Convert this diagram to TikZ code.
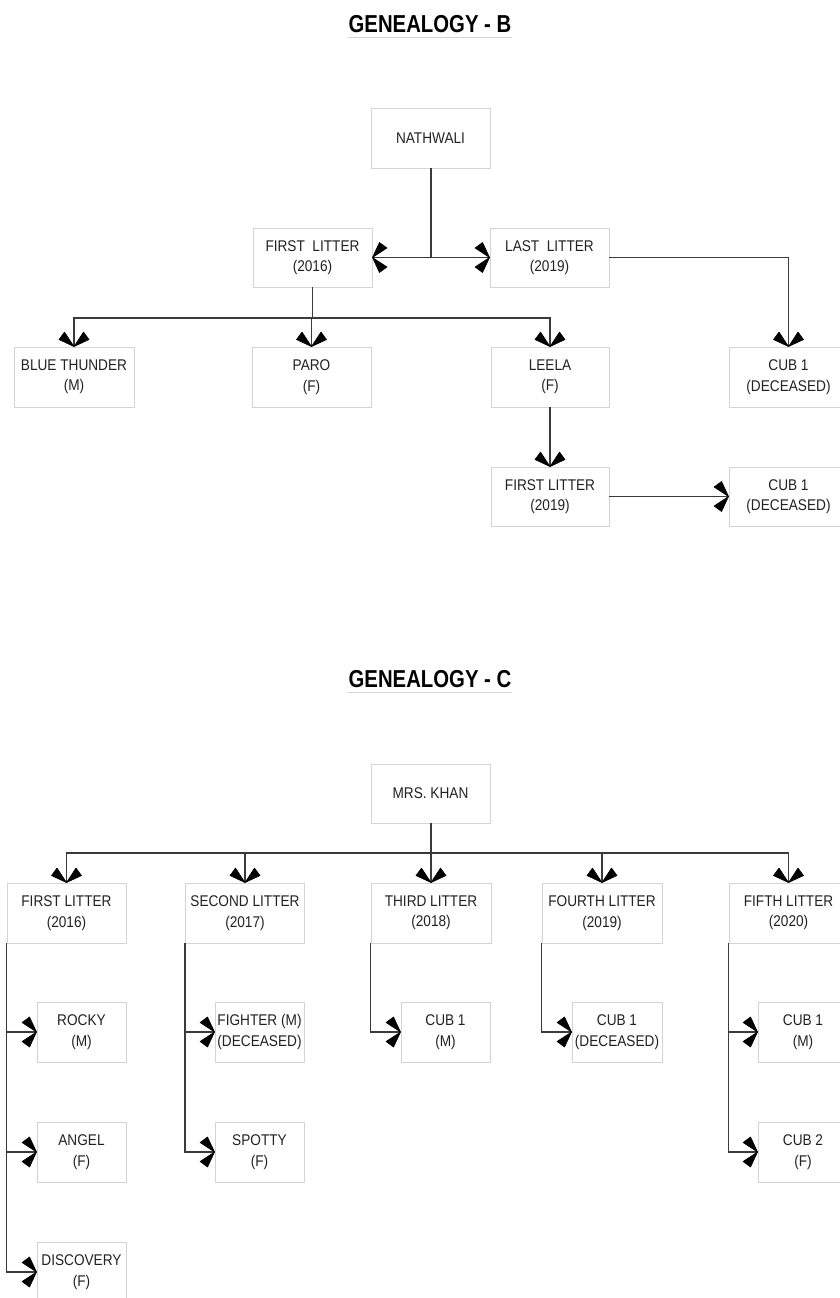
\documentclass[tikz,border=0pt]{standalone}
\usepackage{fontspec}
\setmainfont{Liberation Sans}[FakeStretch=0.88]
\newfontfamily\titlefont{Liberation Sans}[FakeStretch=0.83]
\definecolor{boxgray}{HTML}{D4D4D4}
\definecolor{linegray}{HTML}{3A3A3A}
\definecolor{textgray}{HTML}{222222}
\pgfdeclarearrow{
  name = Wing,
  setup code = {
    \pgfarrowssettipend{0pt}
    \pgfarrowssetbackend{-14.5pt}
    \pgfarrowssetlineend{-1pt}
    \pgfarrowshullpoint{0pt}{0pt}
    \pgfarrowshullpoint{-14.5pt}{15pt}
    \pgfarrowshullpoint{-14.5pt}{-15pt}
  },
  drawing code = {
    \pgfsetlinewidth{0.6pt}
    \pgfsetroundjoin
    \pgfsetcolor{black}
    \pgfpathmoveto{\pgfpoint{0pt}{0pt}}
    \pgfpathlineto{\pgfpoint{-7pt}{15pt}}
    \pgfpathlineto{\pgfpoint{-14.5pt}{9.5pt}}
    \pgfpathclose
    \pgfpathmoveto{\pgfpoint{0pt}{0pt}}
    \pgfpathlineto{\pgfpoint{-7pt}{-15pt}}
    \pgfpathlineto{\pgfpoint{-14.5pt}{-9.5pt}}
    \pgfpathclose
    \pgfusepathqfillstroke
  }
}
\tikzset{
  box/.style={draw=boxgray, line width=0.9pt, inner sep=0pt, minimum height=60pt,
    align=center, text=textgray, font=\fontsize{15.5}{20.5}\selectfont},
  wbig/.style={box, minimum width=119pt},
  wsmall/.style={box, minimum width=90pt},
  conn/.style={draw=linegray, line width=1.3pt},
  arr/.style={conn, -Wing},
  darr/.style={conn, Wing-Wing},
  title/.style={inner sep=0pt, font=\titlefont\bfseries\fontsize{24.5}{28}\selectfont},
  uline/.style={draw=boxgray, line width=0.8pt}
}
\begin{document}
\begin{tikzpicture}[x=1pt,y=-1pt]
\useasboundingbox (0,0) rectangle (840,1298);
\clip (0,0) rectangle (840,1298);
\fill[white] (0,0) rectangle (840,1298);

% ---------- Genealogy B ----------
\node[title] (tB) at (430,24) {GENEALOGY - B};
\coordinate (uB1) at (348,37);
\coordinate (uB2) at (512,37);
\draw[uline] (uB1) -- (uB2);

\node[wbig] (nath) at (430.5,138) {NATHWALI};
\node[wbig, minimum height=59pt] (fl16) at (312.5,257.5) {FIRST\ \ LITTER\\(2016)};
\node[wbig, minimum height=59pt] (ll19) at (549.5,257.5) {LAST\ \ LITTER\\(2019)};
\node[box, minimum width=120pt] (bt) at (74,377) {BLUE THUNDER\\(M)};
\node[wbig] (paro) at (311.5,377) {PARO\\(F)};
\node[box, minimum width=118pt] (leela) at (550,377) {LEELA\\(F)};
\node[wbig] (cubA) at (788.5,377) {CUB 1\\(DECEASED)};
\node[box, minimum width=118pt, minimum height=59pt] (fl19) at (550,496.5) {FIRST LITTER\\(2019)};
\node[wbig, minimum height=59pt] (cubB) at (788.5,496.5) {CUB 1\\(DECEASED)};

\coordinate (j1) at (431,258);
\draw[conn] (nath.south -| j1) -- (j1);
\draw[darr] (fl16.east) -- (ll19.west);
\draw[arr] (ll19.east) -| (cubA.north);
\coordinate (j2) at (312.5,318);
\draw[conn] (fl16.south) -- (j2);
\draw[arr] (j2) -| (bt.north);
\draw[arr] (j2) -| (paro.north);
\draw[arr] (j2) -| (leela.north);
\draw[arr] (leela.south) -- (fl19.north);
\draw[arr] (fl19.east) -- (cubB.west);

% ---------- Genealogy C ----------
\node[title] (tC) at (430,679) {GENEALOGY - C};
\coordinate (uC1) at (348,692);
\coordinate (uC2) at (512,692);
\draw[uline] (uC1) -- (uC2);

\node[wbig, minimum height=59pt] (khan) at (430.5,793.5) {MRS. KHAN};
\node[wbig] (c1) at (66.5,913) {FIRST LITTER\\(2016)};
\node[wbig] (c2) at (245,913) {SECOND LITTER\\(2017)};
\node[box, minimum width=120pt] (c3) at (431,913) {THIRD LITTER\\(2018)};
\node[box, minimum width=120pt] (c4) at (602,913) {FOURTH LITTER\\(2019)};
\node[wbig] (c5) at (788.5,913) {FIFTH LITTER\\(2020)};

\coordinate (j3) at (431,853);
\draw[conn] (khan.south -| j3) -- (j3);
\draw[arr] (j3) -| (c1.north);
\draw[arr] (j3) -| (c2.north);
\draw[arr] (j3) -- (c3.north);
\draw[arr] (j3) -| (c4.north);
\draw[arr] (j3) -| (c5.north);

\node[box, minimum width=89pt] (rocky) at (81.5,1032) {ROCKY\\(M)};
\node[box, minimum width=89pt] (angel) at (81.5,1152) {ANGEL\\(F)};
\node[box, minimum width=89pt] (disc) at (81.5,1272) {DISCOVERY\\(F)};
\node[box, minimum width=89pt] (fighter) at (259.5,1032) {FIGHTER (M)\\(DECEASED)};
\node[box, minimum width=89pt] (spotty) at (259.5,1152) {SPOTTY\\(F)};
\node[box, minimum width=89pt] (cub3) at (445.5,1032) {CUB 1\\(M)};
\node[wsmall] (cub4) at (617,1032) {CUB 1\\(DECEASED)};
\node[wsmall] (cub5a) at (803,1032) {CUB 1\\(M)};
\node[wsmall] (cub5b) at (803,1152) {CUB 2\\(F)};

\draw[arr] (c1.south west) |- (rocky.west);
\draw[arr] (c1.south west) |- (angel.west);
\draw[arr] (c1.south west) |- (disc.west);
\draw[arr] (c2.south west) |- (fighter.west);
\draw[arr] (c2.south west) |- (spotty.west);
\draw[arr] (c3.south west) |- (cub3.west);
\draw[arr] (c4.south west) |- (cub4.west);
\draw[arr] (c5.south west) |- (cub5a.west);
\draw[arr] (c5.south west) |- (cub5b.west);
\end{tikzpicture}
\end{document}
